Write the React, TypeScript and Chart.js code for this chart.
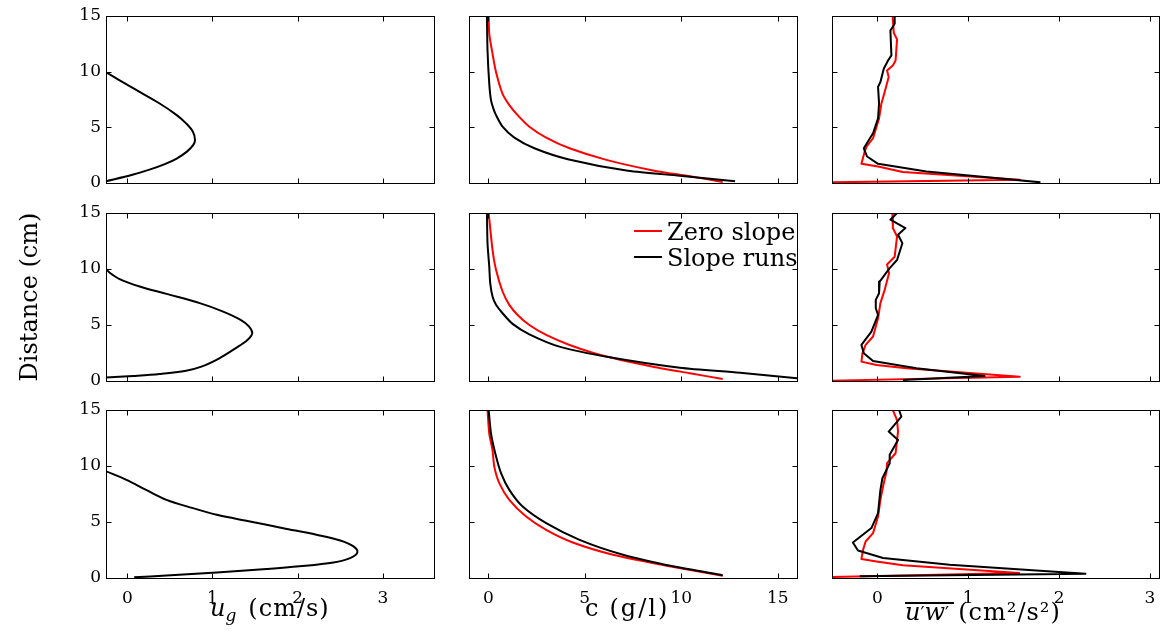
import React, { useEffect, useRef } from 'react';
import { Chart, registerables } from 'chart.js';

Chart.register(...registerables);
Chart.defaults.color = '#000';

// ---------- Data ----------
const seriesNames = ['Zero slope', 'Slope runs'];
const RED = '#ff0000';
const BLACK = '#000000';

// Column 1: u_g (cm/s) vs distance (cm)
const ugRow1Z = [0.14, 0.74, 1.2, 1.7, 2.2, 2.82, 3.42, 3.87, 4.61, 5.36, 6.1, 7.14, 8.18, 9.22, 10.0];
const ugRow1U = [-0.26, 0.06, 0.26, 0.44, 0.58, 0.7, 0.775, 0.795, 0.77, 0.69, 0.58, 0.38, 0.145, -0.09, -0.26];
const ugRow2Z = [0.3, 0.45, 0.63, 0.92, 1.28, 2.03, 2.92, 3.67, 4.26, 4.86, 5.46, 6.2, 6.95, 7.78, 8.44, 9.1, 9.69, 10.08];
const ugRow2U = [-0.26, 0.07, 0.38, 0.69, 0.87, 1.08, 1.27, 1.41, 1.466, 1.43, 1.33, 1.125, 0.85, 0.46, 0.145, -0.09, -0.21, -0.26];
const ugRow3Z = [0.06, 0.23, 0.5, 0.8, 1.04, 1.39, 1.78, 2.28, 2.82, 3.35, 3.86, 4.45, 5.05, 5.64, 6.24, 6.98, 7.87, 8.76, 9.56];
const ugRow3U = [0.08, 0.46, 1.05, 1.635, 2.02, 2.42, 2.615, 2.7, 2.655, 2.5, 2.22, 1.83, 1.44, 1.05, 0.77, 0.46, 0.22, -0.01, -0.26];

// Column 2: c (g/l)
const cRow1ZeroZ = [15, 13.4, 11.6, 9.97, 8.0, 7.0, 6.1, 5.06, 4.08, 3.12, 2.08, 1.13, 0.6, 0.09];
const cRow1ZeroC = [0.02, 0.05, 0.22, 0.4, 0.74, 1.09, 1.52, 2.13, 3.0, 4.21, 6.12, 8.54, 10.45, 12.15];
const cRow1SlopeZ = [15, 11.9, 8.93, 7.44, 6.7, 6.1, 5.06, 4.08, 3.12, 2.14, 1.1, 0.65, 0.15];
const cRow1SlopeC = [-0.07, -0.04, 0.05, 0.14, 0.26, 0.4, 0.74, 1.35, 2.39, 4.12, 7.24, 9.93, 12.79];
const cRow2ZeroZ = [15, 11.7, 9.93, 7.99, 6.8, 5.9, 5.0, 4.11, 3.22, 2.18, 1.28, 0.69, 0.18];
const cRow2ZeroC = [0.02, 0.22, 0.4, 0.74, 1.09, 1.52, 2.13, 3.0, 4.21, 6.12, 8.54, 10.45, 12.15];
const cRow2SlopeZ = [15, 12.3, 10.2, 8.74, 7.54, 6.8, 6.05, 5.1, 4.17, 3.07, 2.12, 1.19, 0.74, 0.24];
const cRow2SlopeC = [-0.07, -0.04, 0.05, 0.1, 0.22, 0.4, 0.74, 1.26, 2.13, 3.69, 6.29, 9.93, 13.05, 16.0];
const cRow3ZeroZ = [15, 12.9, 11.4, 9.95, 8.47, 6.98, 5.49, 4.3, 3.17, 2.08, 1.1, 0.2];
const cRow3ZeroC = [-0.04, 0.05, 0.22, 0.31, 0.57, 1.09, 1.96, 3.0, 4.38, 6.46, 9.24, 12.15];
const cRow3SlopeZ = [15, 12.9, 11.14, 9.36, 7.87, 6.38, 4.9, 3.41, 2.08, 1.04, 0.24];
const cRow3SlopeC = [0.02, 0.14, 0.36, 0.66, 1.09, 1.78, 3.0, 4.73, 6.98, 9.58, 12.15];

// Column 3: u'w' (cm^2/s^2)
const uwRow1ZeroZ = [15, 13.5, 12.9, 11.0, 10.56, 10.1, 9.52, 8.18, 7.14, 5.8, 4.02, 3.27, 2.82, 1.72, 1.48, 0.98, 0.3, 0.06];
const uwRow1ZeroV = [0.167, 0.18, 0.216, 0.2, 0.17, 0.106, 0.124, 0.08, 0.044, 0.018, -0.048, -0.12, -0.14, -0.176, 0.007, 0.28, 1.567, -0.51];
const uwRow1SlopeZ = [15, 14.3, 13.7, 11.46, 11.0, 10.26, 9.07, 8.63, 7.14, 5.8, 4.46, 3.12, 2.38, 1.72, 1.04, 0.06];
const uwRow1SlopeV = [0.19, 0.19, 0.143, 0.154, 0.117, 0.07, 0.033, 0.007, 0.018, 0.007, -0.048, -0.15, -0.114, 0.007, 0.54, 1.795];
const uwRow2ZeroZ = [15, 13.66, 12.9, 11.1, 10.4, 9.63, 8.14, 6.95, 5.6, 3.97, 3.22, 2.47, 1.73, 1.43, 1.13, 0.39, 0.03];
const uwRow2ZeroV = [0.165, 0.17, 0.216, 0.19, 0.106, 0.128, 0.08, 0.033, 0.007, -0.048, -0.13, -0.165, -0.176, -0.01, 0.32, 1.567, -0.51];
const uwRow2SlopeZ = [15, 14.4, 13.66, 13.06, 12.3, 10.8, 10.08, 9.48, 8.88, 7.84, 7.24, 6.5, 5.9, 4.41, 3.22, 2.47, 1.79, 1.13, 0.45, 0.09];
const uwRow2SlopeV = [0.216, 0.143, 0.308, 0.227, 0.275, 0.216, 0.135, 0.08, 0.025, 0.018, -0.018, -0.018, 0.007, -0.066, -0.176, -0.15, -0.048, 0.43, 1.18, 0.28];
const uwRow3ZeroZ = [15, 14.1, 13.07, 11.14, 10.25, 9.5, 8.17, 6.98, 5.49, 4.01, 3.26, 2.52, 1.69, 1.48, 1.13, 0.44, 0.09];
const uwRow3ZeroV = [0.17, 0.216, 0.227, 0.2, 0.106, 0.1, 0.062, 0.033, 0.007, -0.048, -0.13, -0.158, -0.176, -0.01, 0.28, 1.56, -0.51];
const uwRow3SlopeZ = [15, 14.4, 13.07, 12.33, 11.0, 10.25, 9.65, 8.91, 7.87, 5.79, 4.46, 3.17, 2.46, 1.78, 1.19, 0.38, 0.15];
const uwRow3SlopeV = [0.238, 0.264, 0.124, 0.227, 0.135, 0.135, 0.1, 0.055, 0.033, 0.007, -0.066, -0.27, -0.214, 0.062, 0.796, 2.29, -0.195];

// Ticks and axis ranges
const zTicks = [0, 5, 10, 15];
const ugTicks = [0, 1, 2, 3];
const cTicks = [0, 5, 10, 15];
const uwTicks = [0, 1, 2, 3];
const ugRange = [-0.25, 3.6];
const cRange = [-1, 16];
const uwRange = [-0.5, 3.1];
const zRange = [0, 15];

// ---------- Layout ----------
const ML = 60, MT = 16, MR = 16, MB = 40;
const colLeft = [106, 469, 832];
const colWidth = [328, 328, 327];
const rowTop = [16, 213, 410];
const rowHeight = [167, 168, 168];
const TICK_FONT = { family: "'DejaVu Serif', serif", size: 17 };

type Series = { label: string; x: number[]; z: number[]; color: string; tension: number };

const framePlugin = {
  id: 'frame',
  afterDatasetsDraw(chart: any) {
    const { ctx, chartArea: a, scales } = chart;
    const xs = scales.x, ys = scales.y;
    const L = Math.round(a.left) + 0.5, R = Math.round(a.right) + 0.5;
    const T = Math.round(a.top) + 0.5, B = Math.round(a.bottom) + 0.5;
    ctx.save();
    ctx.strokeStyle = '#000';
    ctx.lineWidth = 1;
    ctx.strokeRect(L, T, R - L, B - T);
    ctx.beginPath();
    const tl = 5;
    xs.ticks.forEach((t: any) => {
      const px = Math.round(xs.getPixelForValue(t.value)) + 0.5;
      ctx.moveTo(px, B); ctx.lineTo(px, B - tl);
      ctx.moveTo(px, T); ctx.lineTo(px, T + tl);
    });
    ys.ticks.forEach((t: any) => {
      const py = Math.round(ys.getPixelForValue(t.value)) + 0.5;
      ctx.moveTo(L, py); ctx.lineTo(L + tl, py);
      ctx.moveTo(R, py); ctx.lineTo(R - tl, py);
    });
    ctx.stroke();
    ctx.restore();
  },
};

const legendPlugin = {
  id: 'legendLines',
  afterDatasetsDraw(chart: any, _args: any, opts: any) {
    if (!opts || !opts.show) return;
    const { ctx, chartArea: a } = chart;
    ctx.save();
    ctx.font = "24px 'DejaVu Serif'";
    ctx.textBaseline = 'alphabetic';
    ctx.textAlign = 'left';
    chart.data.datasets.forEach((ds: any, i: number) => {
      const y = a.top + opts.y0 + i * opts.dy;
      ctx.strokeStyle = ds.borderColor;
      ctx.lineWidth = 2;
      ctx.beginPath();
      ctx.moveTo(a.left + opts.x0, y);
      ctx.lineTo(a.left + opts.x0 + opts.len, y);
      ctx.stroke();
      ctx.fillStyle = '#000';
      ctx.fillText(ds.label, a.left + opts.x0 + opts.len + 5, y + 9);
    });
    ctx.restore();
  },
};

type PanelProps = {
  col: number; row: number; series: Series[];
  xRange: number[]; xTicks: number[];
  showX: boolean; showY: boolean; legend?: boolean;
};

function Panel(p: PanelProps) {
  const ref = useRef<HTMLCanvasElement>(null);
  const w = colWidth[p.col] + ML + MR;
  const h = rowHeight[p.row] + MT + MB;
  useEffect(() => {
    const chart = new Chart(ref.current as HTMLCanvasElement, {
      type: 'line',
      data: {
        datasets: p.series.map((s) => ({
          label: s.label,
          data: s.x.map((v, k) => ({ x: v, y: s.z[k] })),
          borderColor: s.color,
          backgroundColor: s.color,
          borderWidth: 2,
          pointRadius: 0,
          tension: s.tension,
          fill: false,
          order: s.color === RED ? 1 : 0,
          borderJoinStyle: 'round',
          borderCapStyle: 'butt',
        })),
      } as any,
      options: {
        animation: false,
        responsive: false,
        maintainAspectRatio: false,
        events: [],
        layout: { padding: { left: 0, top: MT, right: MR, bottom: 0 } },
        plugins: {
          legend: { display: false },
          tooltip: { enabled: false },
          legendLines: { show: !!p.legend, x0: 165, y0: 18, dy: 26, len: 28 },
        } as any,
        scales: {
          x: {
            type: 'linear',
            min: p.xRange[0],
            max: p.xRange[1],
            grid: { display: false, drawTicks: false },
            border: { display: false },
            ticks: { display: p.showX, padding: 10, color: '#000', font: TICK_FONT },
            afterBuildTicks: (s: any) => { s.ticks = p.xTicks.map((v) => ({ value: v })); },
            afterFit: (s: any) => { s.height = MB; },
          },
          y: {
            type: 'linear',
            min: zRange[0],
            max: zRange[1],
            grid: { display: false, drawTicks: false },
            border: { display: false },
            ticks: { display: p.showY, padding: 5, color: '#000', font: TICK_FONT },
            afterBuildTicks: (s: any) => { s.ticks = zTicks.map((v) => ({ value: v })); },
            afterFit: (s: any) => { s.width = ML; },
          },
        } as any,
      },
      plugins: [framePlugin, legendPlugin],
    });
    return () => chart.destroy();
  }, []);
  return (
    <canvas
      ref={ref}
      width={w}
      height={h}
      style={{ position: 'absolute', left: colLeft[p.col] - ML, top: rowTop[p.row] - MT, width: w, height: h }}
    />
  );
}

const one = (x: number[], z: number[], tension: number): Series[] => [
  { label: 'u_g', x, z, color: BLACK, tension },
];
const two = (xz: number[], zz: number[], xs: number[], zs: number[], tension: number): Series[] => [
  { label: seriesNames[0], x: xz, z: zz, color: RED, tension },
  { label: seriesNames[1], x: xs, z: zs, color: BLACK, tension },
];

const serif = "'DejaVu Serif', serif";

export default function App() {
  const ugSeries = [one(ugRow1U, ugRow1Z, 0.35), one(ugRow2U, ugRow2Z, 0.35), one(ugRow3U, ugRow3Z, 0.35)];
  const cSeries = [
    two(cRow1ZeroC, cRow1ZeroZ, cRow1SlopeC, cRow1SlopeZ, 0.25),
    two(cRow2ZeroC, cRow2ZeroZ, cRow2SlopeC, cRow2SlopeZ, 0.25),
    two(cRow3ZeroC, cRow3ZeroZ, cRow3SlopeC, cRow3SlopeZ, 0.25),
  ];
  const uwSeries = [
    two(uwRow1ZeroV, uwRow1ZeroZ, uwRow1SlopeV, uwRow1SlopeZ, 0),
    two(uwRow2ZeroV, uwRow2ZeroZ, uwRow2SlopeV, uwRow2SlopeZ, 0),
    two(uwRow3ZeroV, uwRow3ZeroZ, uwRow3SlopeV, uwRow3SlopeZ, 0),
  ];
  const rows = [0, 1, 2];
  return (
    <div style={{ position: 'absolute', left: 0, top: 0, width: 1164, height: 639, background: '#fff', overflow: 'hidden' }}>
      {rows.map((r) => (
        <React.Fragment key={r}>
          <Panel col={0} row={r} series={ugSeries[r]} xRange={ugRange} xTicks={ugTicks} showX={r === 2} showY={true} />
          <Panel col={1} row={r} series={cSeries[r]} xRange={cRange} xTicks={cTicks} showX={r === 2} showY={false} legend={r === 1} />
          <Panel col={2} row={r} series={uwSeries[r]} xRange={uwRange} xTicks={uwTicks} showX={r === 2} showY={false} />
        </React.Fragment>
      ))}
      {/* Y axis title */}
      <div
        style={{
          position: 'absolute', left: 29, top: 297, transform: 'translate(-50%, -50%) rotate(-90deg)',
          font: `24px ${serif}`, lineHeight: '24px', whiteSpace: 'nowrap', color: '#000',
        }}
      >
        Distance (cm)
      </div>
      {/* X axis titles */}
      <div style={{ position: 'absolute', left: 210, top: 596, font: `24px ${serif}`, lineHeight: '24px', whiteSpace: 'nowrap', color: '#000' }}>
        <i>u</i>
        <i style={{ fontSize: 17, position: 'relative', top: 5 }}>g</i>
        <span style={{ marginLeft: 12, letterSpacing: 1 }}>(cm/s)</span>
      </div>
      <div style={{ position: 'absolute', left: 585, top: 596, font: `24px ${serif}`, lineHeight: '24px', whiteSpace: 'nowrap', color: '#000' }}>
        c<span style={{ marginLeft: 11, letterSpacing: 2 }}>(g/l)</span>
      </div>
      <div style={{ position: 'absolute', left: 905, top: 602, width: 49, height: 1.5, background: '#000' }} />
      <div style={{ position: 'absolute', left: 905, top: 600, font: `24px ${serif}`, lineHeight: '24px', whiteSpace: 'nowrap', color: '#000' }}>
        <i>u</i><span style={{ fontSize: 18 }}>′</span><i>w</i><span style={{ fontSize: 18 }}>′</span>
        <span style={{ marginLeft: 9, letterSpacing: 1 }}>(cm²/s²)</span>
      </div>
    </div>
  );
}
